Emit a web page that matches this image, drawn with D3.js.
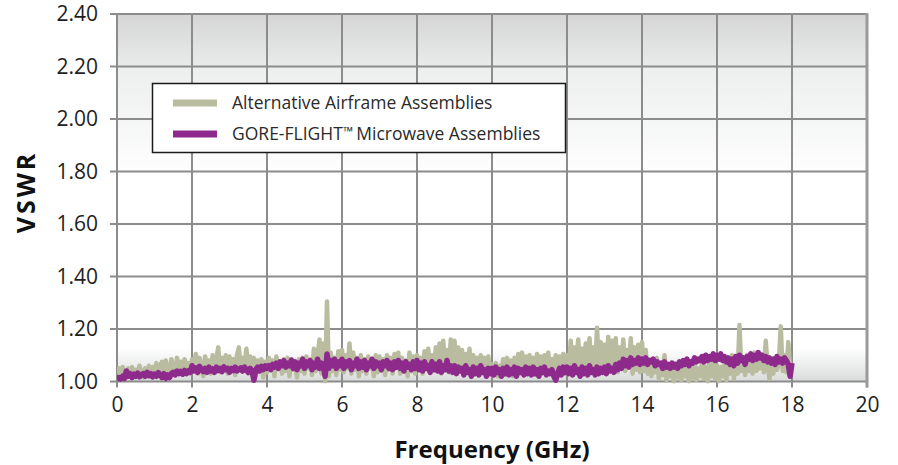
<!DOCTYPE html>
<html>
<head>
<meta charset="utf-8">
<script src="https://cdn.jsdelivr.net/npm/d3@7"></script>
<style>
  html, body { margin: 0; padding: 0; background: #ffffff; }
  svg { display: block; }
</style>
</head>
<body>
<svg id="chart" width="898" height="465"></svg>
<script>
// ---------------- DATA ----------------
const xTicks = [0, 2, 4, 6, 8, 10, 12, 14, 16, 18, 20];
const yTicks = [1.00, 1.20, 1.40, 1.60, 1.80, 2.00, 2.20, 2.40];
const seriesNames = ["Alternative Airframe Assemblies", "GORE-FLIGHT", "Microwave Assemblies"];
const freqStart = 0, freqStep = 0.05; // GHz, one value per 0.05 GHz from 0 to 18

const alternativeVSWR = [
  1.03,1.05,1.02,1.055,1.035,1.015,1.05,1.03,1.055,1.02, 1.045,1.025,1.06,1.03,1.015,1.05,1.035,1.06,1.02,1.055,
  1.03,1.07,1.025,1.06,1.075,1.03,1.08,1.04,1.025,1.085, 1.05,1.03,1.09,1.045,1.075,1.025,1.085,1.04,1.07,1.03,
  1.085,1.045,1.105,1.03,1.09,1.055,1.02,1.095,1.04,1.08, 1.03,1.10,1.045,1.085,1.13,1.035,1.09,1.05,1.10,1.03,
  1.095,1.04,1.085,1.025,1.10,1.13,1.04,1.09,1.05,1.125, 1.03,1.095,1.045,1.09,1.02,1.08,1.04,1.085,1.015,1.075,
  1.035,1.09,1.045,1.08,1.02,1.095,1.05,1.075,1.03,1.085, 1.04,1.09,1.02,1.08,1.045,1.07,1.015,1.085,1.04,1.09,
  1.03,1.095,1.05,1.085,1.025,1.125,1.04,1.10,1.16,1.03, 1.145,1.00,1.305,1.02,1.11,1.04,1.09,1.025,1.115,1.045,
  1.12,1.035,1.10,1.05,1.145,1.03,1.11,1.045,1.09,1.02, 1.10,1.04,1.085,1.03,1.095,1.05,1.08,1.02,1.10,1.035,
  1.095,1.04,1.085,1.025,1.10,1.045,1.09,1.03,1.105,1.05, 1.11,1.03,1.09,1.045,1.08,1.02,1.11,1.04,1.095,1.03,
  1.10,1.045,1.09,1.03,1.115,1.05,1.125,1.035,1.10,1.04, 1.13,1.05,1.145,1.03,1.155,1.045,1.12,1.035,1.16,1.05,
  1.155,1.04,1.13,1.05,1.12,1.03,1.105,1.045,1.125,1.03, 1.10,1.04,1.09,1.025,1.10,1.045,1.09,1.03,1.095,1.04,
  1.065,1.03,1.07,1.02,1.06,1.04,1.085,1.025,1.09,1.035, 1.08,1.02,1.09,1.04,1.105,1.03,1.11,1.045,1.095,1.03,
  1.10,1.04,1.09,1.025,1.105,1.045,1.095,1.03,1.10,1.05, 1.11,1.035,1.085,1.04,1.10,1.025,1.095,1.045,1.105,1.03,
  1.10,1.05,1.155,1.035,1.13,1.06,1.16,1.04,1.125,1.055, 1.145,1.03,1.165,1.05,1.13,1.04,1.205,1.06,1.15,1.035,
  1.14,1.05,1.17,1.04,1.155,1.06,1.165,1.035,1.13,1.05, 1.16,1.04,1.12,1.055,1.165,1.03,1.13,1.045,1.14,1.035,
  1.15,1.04,1.12,1.03,1.085,1.02,1.07,1.035,1.09,1.01, 1.065,1.025,1.10,1.005,1.06,1.02,1.05,1.00,1.06,1.015,
  1.05,1.005,1.055,1.02,1.045,1.00,1.06,1.015,1.065,1.005, 1.05,1.02,1.07,1.01,1.055,1.00,1.075,1.02,1.08,1.01,
  1.06,1.00,1.055,1.02,1.065,1.005,1.08,1.03,1.10,1.01, 1.085,1.03,1.215,1.04,1.09,1.025,1.10,1.04,1.085,1.03,
  1.11,1.04,1.095,1.05,1.10,1.035,1.155,1.06,1.01,1.08, 1.03,1.09,1.045,1.075,1.21,1.04,1.10,1.035,1.15,1.05,
  1.05
];

const goreVSWR = [
  1.005,1.015,1.01,1.02,1.012,1.04,1.02,1.03,1.015,1.028, 1.02,1.032,1.018,1.025,1.03,1.02,1.035,1.022,1.03,1.018,
  1.028,1.02,1.034,1.025,1.015,1.03,1.012,1.025,1.015,1.03, 1.035,1.025,1.04,1.03,1.038,1.028,1.042,1.03,1.04,1.035,
  1.06,1.04,1.052,1.035,1.058,1.045,1.038,1.05,1.035,1.055, 1.04,1.048,1.035,1.055,1.042,1.05,1.038,1.056,1.045,1.05,
  1.035,1.05,1.042,1.055,1.04,1.048,1.052,1.04,1.055,1.045, 1.035,1.05,1.04,1.005,1.045,1.055,1.04,1.058,1.045,1.06,
  1.05,1.06,1.045,1.065,1.055,1.07,1.05,1.075,1.06,1.08, 1.055,1.07,1.06,1.082,1.05,1.075,1.045,1.07,1.06,1.085,
  1.05,1.075,1.06,1.08,1.045,1.07,1.055,1.085,1.05,1.07, 1.06,1.02,1.105,1.05,1.08,1.06,1.085,1.05,1.075,1.06,
  1.085,1.05,1.075,1.06,1.08,1.045,1.07,1.06,1.085,1.05, 1.075,1.055,1.08,1.045,1.07,1.06,1.085,1.05,1.075,1.06,
  1.07,1.045,1.075,1.06,1.08,1.05,1.07,1.045,1.075,1.055, 1.08,1.05,1.07,1.04,1.075,1.055,1.065,1.045,1.075,1.05,
  1.08,1.045,1.07,1.04,1.075,1.05,1.06,1.035,1.075,1.045, 1.065,1.04,1.075,1.035,1.06,1.045,1.08,1.04,1.06,1.035,
  1.06,1.03,1.055,1.04,1.05,1.025,1.06,1.035,1.045,1.02, 1.055,1.03,1.05,1.025,1.06,1.035,1.045,1.02,1.05,1.03,
  1.05,1.025,1.055,1.035,1.045,1.02,1.05,1.03,1.055,1.025, 1.045,1.03,1.055,1.02,1.05,1.035,1.045,1.025,1.055,1.03,
  1.05,1.025,1.055,1.03,1.045,1.02,1.05,1.035,1.055,1.025, 1.04,1.03,1.045,1.02,1.005,1.03,1.05,1.025,1.055,1.035,
  1.055,1.03,1.05,1.025,1.06,1.035,1.045,1.02,1.055,1.03, 1.05,1.025,1.06,1.035,1.045,1.025,1.055,1.03,1.05,1.035,
  1.055,1.03,1.06,1.04,1.05,1.035,1.065,1.045,1.07,1.05, 1.085,1.06,1.08,1.055,1.09,1.065,1.08,1.07,1.09,1.065,
  1.085,1.07,1.09,1.065,1.08,1.075,1.085,1.06,1.075,1.065, 1.07,1.05,1.075,1.055,1.065,1.05,1.07,1.055,1.065,1.05,
  1.075,1.06,1.08,1.065,1.085,1.06,1.075,1.07,1.09,1.075, 1.085,1.08,1.095,1.075,1.10,1.08,1.095,1.085,1.105,1.08,
  1.10,1.085,1.105,1.08,1.095,1.075,1.09,1.065,1.085,1.06, 1.095,1.07,1.10,1.08,1.09,1.065,1.095,1.085,1.105,1.08,
  1.10,1.085,1.11,1.09,1.10,1.08,1.095,1.075,1.09,1.07, 1.085,1.065,1.095,1.075,1.085,1.07,1.09,1.08,1.065,1.02,
  1.07
];

// ---------------- LAYOUT ----------------
const svg = d3.select("#chart");
const plot = { left: 117, right: 867, top: 14, bottom: 381.5 };
const x = d3.scaleLinear().domain([0, 20]).range([plot.left, plot.right]);
const y = d3.scaleLinear().domain([1.0, 2.4]).range([plot.bottom, plot.top]);
const fontFamily = "'Open Sans', 'Noto Sans', sans-serif";
const gridColor = "#8c8c8c";

// background gradient
const defs = svg.append("defs");
const grad = defs.append("linearGradient").attr("id", "bg")
  .attr("x1", 0).attr("y1", 0).attr("x2", 0).attr("y2", 1);
[["0%", "#d5d5d5"], ["14%", "#e9eaea"], ["15%", "#edeeee"], ["45%", "#ffffff"],
 ["91%", "#ffffff"], ["100%", "#d9dbdb"]].forEach(([o, c]) =>
  grad.append("stop").attr("offset", o).attr("stop-color", c));

svg.append("rect")
  .attr("x", plot.left).attr("y", plot.top)
  .attr("width", plot.right - plot.left).attr("height", plot.bottom - plot.top)
  .attr("fill", "url(#bg)");

// grid
const grid = svg.append("g");
grid.selectAll("line.v").data(xTicks).join("line")
  .attr("x1", d => x(d)).attr("x2", d => x(d))
  .attr("y1", plot.top).attr("y2", plot.bottom + 6)
  .attr("stroke", gridColor).attr("stroke-width", 2);
grid.selectAll("line.h").data(yTicks).join("line")
  .attr("x1", plot.left - 7).attr("x2", plot.right)
  .attr("y1", d => y(d)).attr("y2", d => y(d))
  .attr("stroke", gridColor).attr("stroke-width", 2);
svg.append("line")
  .attr("x1", plot.right).attr("x2", plot.right)
  .attr("y1", plot.top - 1).attr("y2", plot.bottom + 6)
  .attr("stroke", "#9a9a9a").attr("stroke-width", 3);

// axes tick labels
const yAxis = d3.axisLeft(y).tickValues(yTicks).tickFormat(d3.format(".2f")).tickSize(0).tickPadding(19);
const gy = svg.append("g").attr("transform", `translate(${plot.left},0)`).call(yAxis);
gy.select(".domain").remove();
gy.selectAll("text").attr("font-family", fontFamily).attr("font-size", 21).attr("fill", "#1e1e1e");

const xAxis = d3.axisBottom(x).tickValues(xTicks).tickFormat(d3.format("d")).tickSize(0).tickPadding(16);
const gx = svg.append("g").attr("transform", `translate(0,${plot.bottom})`).call(xAxis);
gx.select(".domain").remove();
gx.selectAll("text").attr("font-family", fontFamily).attr("font-size", 21).attr("fill", "#1e1e1e");

// series
const toPoints = arr => arr.map((v, i) => [freqStart + i * freqStep, v]);
const line = d3.line().x(d => x(d[0])).y(d => y(d[1]));
defs.append("clipPath").attr("id", "clip").append("rect")
  .attr("x", plot.left).attr("y", plot.top)
  .attr("width", plot.right - plot.left).attr("height", plot.bottom - plot.top + 2);

const seriesG = svg.append("g").attr("clip-path", "url(#clip)");
seriesG.append("path").datum(toPoints(alternativeVSWR))
  .attr("d", line).attr("fill", "none")
  .attr("stroke", "#b9bc9f").attr("stroke-width", 4.5).attr("stroke-linejoin", "round");
seriesG.append("path").datum(toPoints(goreVSWR))
  .attr("d", line).attr("fill", "none")
  .attr("stroke", "#8e2a8c").attr("stroke-width", 5.5).attr("stroke-linejoin", "round");

// axis titles
svg.append("text")
  .attr("x", (plot.left + plot.right) / 2).attr("y", 458)
  .attr("text-anchor", "middle")
  .attr("font-family", fontFamily).attr("font-weight", 700).attr("font-size", 24)
  .attr("fill", "#111").text("Frequency (GHz)");
svg.append("text")
  .attr("transform", "translate(35,192) rotate(-90)")
  .attr("text-anchor", "middle")
  .attr("font-family", fontFamily).attr("font-weight", 700).attr("font-size", 25)
  .attr("letter-spacing", 3)
  .attr("fill", "#111").text("VSWR");

// legend
const legend = svg.append("g");
legend.append("rect")
  .attr("x", 152.5).attr("y", 83.5).attr("width", 413).attr("height", 69)
  .attr("fill", "#ffffff").attr("stroke", "#1a1a1a").attr("stroke-width", 1.5);
const legendItems = [
  { color: "#b9bc9f", y: 103, label: seriesNames[0], tm: false },
  { color: "#8e2a8c", y: 134, label: seriesNames[1], tm: true }
];
legendItems.forEach(it => {
  legend.append("line")
    .attr("x1", 173).attr("x2", 217).attr("y1", it.y).attr("y2", it.y)
    .attr("stroke", it.color).attr("stroke-width", 7);
  const t = legend.append("text")
    .attr("x", 232).attr("y", it.y).attr("dy", "0.35em")
    .attr("font-family", fontFamily).attr("font-size", 17.5).attr("fill", "#2a2a2a");
  t.append("tspan").text(it.label);
  if (it.tm) {
    t.append("tspan").attr("font-size", 13).attr("dy", -4).attr("dx", 0.5).text("\u2122");
    t.append("tspan").attr("dy", 4).attr("dx", 3).text(seriesNames[2]);
  }
});
</script>
</body>
</html>
